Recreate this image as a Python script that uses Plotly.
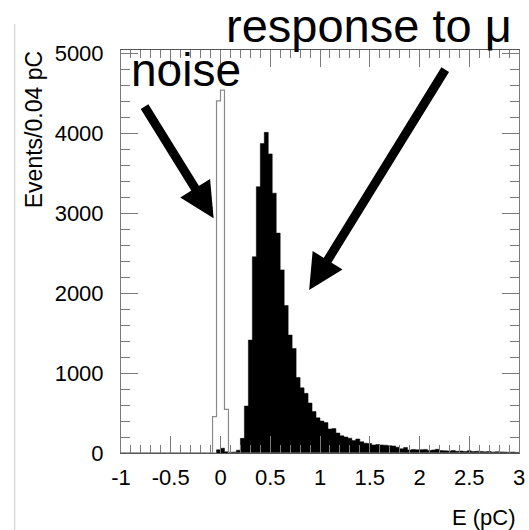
import plotly.graph_objects as go

# ---- data ----
bin_width = 0.04
x_start = -1.0
# filled histogram ("response to mu"), 100 bins from -1 to 3
signal_counts = (
    [0] * 24 +
    [40, 60, 15, 10, 12, 35, 183, 587, 1412, 2454,
     3330, 3870, 4010, 3740, 3250, 2750, 2290, 1845, 1475, 1308,
     944, 815, 746, 625, 520, 440, 400, 380, 300, 305,
     250, 215, 200, 185, 155, 175, 140, 122, 118, 100,
     105, 100, 98, 92, 88, 72, 52, 68, 38, 45,
     40, 42, 45, 30, 38, 46, 30, 28, 25, 30,
     22, 25, 20, 28, 18, 22, 20, 15, 18, 12,
     16, 14, 12, 10, 12, 8]
)
# outline histogram ("noise")
noise_counts = [0] * 23 + [454, 4404, 4537, 546] + [0] * 73

x_tickvals = [-1, -0.5, 0, 0.5, 1, 1.5, 2, 2.5, 3]
x_ticktext = ["-1", "-0.5", "0", "0.5", "1", "1.5", "2", "2.5", "3"]
y_tickvals = [0, 1000, 2000, 3000, 4000, 5000]
y_ticktext = ["0", "1000", "2000", "3000", "4000", "5000"]

def step_xy(counts):
    edges = [x_start + bin_width * i for i in range(len(counts) + 1)]
    return edges, list(counts) + [counts[-1]]

FONT = "Liberation Sans, Arial, Helvetica, sans-serif"
AX_GRAY = "#7a7a7a"

fig = go.Figure()
sx, sy = step_xy(signal_counts)
fig.add_trace(go.Scatter(x=sx, y=sy, mode="lines", line=dict(shape="hv", color="black", width=0.5),
                         fill="tozeroy", fillcolor="black", showlegend=False))
nx, ny = step_xy(noise_counts)
fig.add_trace(go.Scatter(x=nx, y=ny, mode="lines", line=dict(shape="hv", color="#8a8a8a", width=1.2),
                         showlegend=False))

fig.update_xaxes(range=[-1, 3], tickvals=x_tickvals, ticktext=x_ticktext,
                 ticks="inside", ticklen=17, tickcolor=AX_GRAY, tickwidth=1,
                 minor=dict(dtick=0.1, ticks="inside", ticklen=8, tickcolor=AX_GRAY, tickwidth=1),
                 showline=True, linecolor="#555555", linewidth=1, mirror="ticks",
                 showgrid=False, zeroline=False, ticklabelstandoff=5, ticklabeloverflow="allow",
                 tickfont=dict(family=FONT, size=22, color="black"))
fig.update_yaxes(range=[0, 5040], tickvals=y_tickvals, ticktext=y_ticktext,
                 ticks="inside", ticklen=17, tickcolor=AX_GRAY, tickwidth=1,
                 minor=dict(dtick=200, ticks="inside", ticklen=9, tickcolor=AX_GRAY, tickwidth=1),
                 showline=True, linecolor=AX_GRAY, linewidth=1, mirror="ticks",
                 showgrid=False, zeroline=False, ticklabelstandoff=12,
                 tickfont=dict(family=FONT, size=22, color="black"))

annotations = [
    dict(text="noise", xref="paper", yref="paper", x=0.0198, y=0.950, xanchor="left", yanchor="middle",
         showarrow=False, font=dict(family=FONT, size=46, color="black")),
    dict(text="response to \u03bc", xref="paper", yref="paper", x=0.26, y=1.062, xanchor="left", yanchor="middle",
         showarrow=False, font=dict(family=FONT, size=47, color="black")),
    dict(text="", x=-0.069, y=2937, xref="x", yref="y", ax=-70, ay=-113, showarrow=True,
         arrowhead=2, arrowwidth=9, arrowsize=0.78, arrowcolor="black"),
    dict(text="", x=0.891, y=2037, xref="x", yref="y", ax=137, ay=-222, showarrow=True,
         arrowhead=2, arrowwidth=9, arrowsize=0.78, arrowcolor="black"),
    dict(text="Events/0.04 pC", xref="paper", yref="paper", x=-0.218, y=0.8015, textangle=-90,
         xanchor="center", yanchor="middle", showarrow=False, font=dict(family=FONT, size=23, color="black")),
    dict(text="E (pC)", xref="paper", yref="paper", x=0.9975, y=-0.161, xanchor="right", yanchor="middle",
         showarrow=False, font=dict(family=FONT, size=22, color="black")),
]

fig.update_layout(width=529, height=530, margin=dict(l=121, r=4, t=50, b=77),
                  paper_bgcolor="white", plot_bgcolor="white", annotations=annotations,
                  shapes=[dict(type="line", xref="paper", yref="paper", x0=-0.267, x1=-0.267,
                               y0=-0.191, y1=1.0645, line=dict(color="#c8c8c8", width=1))])

fig.write_html("out.html")
